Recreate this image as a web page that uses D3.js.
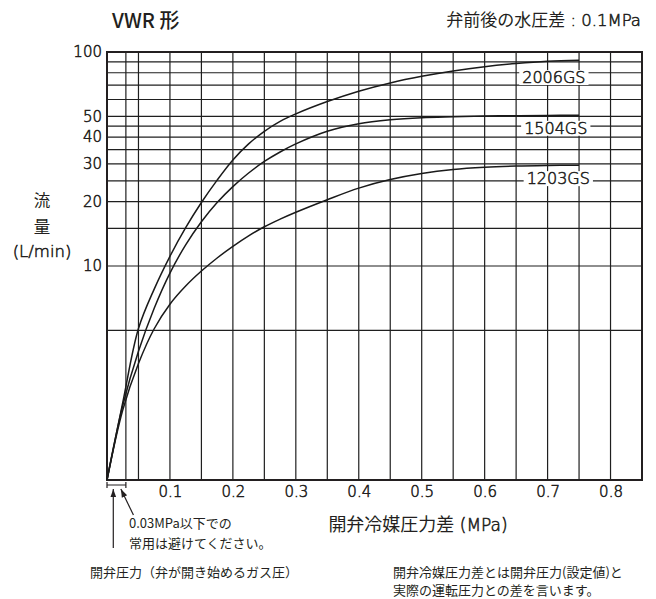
<!doctype html>
<html>
<head>
<meta charset="utf-8">
<title>VWR 形</title>
<script src="https://cdn.jsdelivr.net/npm/d3@7"></script>
<style>
  body { margin: 0; background: #fff; }
  svg { display: block; }
  text { font-family: "Noto Sans CJK JP", "Noto Sans", sans-serif; fill: #231f20; }
  .num, .axis text { font-family: "DejaVu Sans", sans-serif; font-weight: 200; stroke: #231f20; stroke-width: 0.55; }
  .grid line { stroke: #1f1f1f; stroke-width: 1.2; }
  .axis text { font-size: 15px; }
  .curve { fill: none; stroke: #1a1a1a; stroke-width: 1.5; }
  .note { font-size: 13px; }
</style>
</head>
<body>
<script>
"use strict";

// pressure difference (MPa)
const pressure = [0, 0.025, 0.05, 0.075, 0.1, 0.125, 0.15, 0.175, 0.2, 0.225, 0.25, 0.275, 0.3, 0.35, 0.4, 0.45, 0.5, 0.55, 0.6, 0.65, 0.7, 0.75];
// flow (L/min)
const flow2006 = [1, 2.3, 5.1, 7.8, 11.1, 15.1, 19.8, 25.2, 31.3, 37.2, 42.6, 47.4, 51.4, 58.7, 65.6, 71.7, 77, 81.6, 85.4, 88.3, 90.5, 91.6];
const flow1504 = [1, 2.23, 4, 6.35, 9.27, 12.55, 16.1, 19.8, 23.5, 27.2, 30.8, 34.1, 37.2, 42.6, 46.2, 48.2, 49.3, 49.8, 50.2, 50.4, 50.55, 50.6];
const flow1203 = [1, 2.12, 3.5, 5.09, 6.63, 8.06, 9.47, 10.9, 12.35, 13.83, 15.25, 16.55, 17.83, 20.41, 23.12, 25.34, 27.04, 28.23, 28.91, 29.29, 29.48, 29.58];
const models = ["2006GS", "1504GS", "1203GS"];

const xTicks = [0.1, 0.2, 0.3, 0.4, 0.5, 0.6, 0.7, 0.8];
const yTicks = [10, 20, 30, 40, 50, 100];
const xGrid = [0, 0.03, 0.05, 0.1, 0.15, 0.2, 0.25, 0.3, 0.35, 0.4, 0.45, 0.5, 0.55, 0.6, 0.65, 0.7, 0.75, 0.8, 0.85];
const yGrid = [1, 5, 10, 15, 20, 25, 30, 35, 40, 45, 50, 60, 70, 80, 90, 100];

const width = 656;
const height = 599;
const margin = { top: 52, right: 14, bottom: 119, left: 107 };

const x = d3.scaleLinear()
    .domain([0, 0.85])
    .range([margin.left, width - margin.right]);

const y = d3.scaleLog()
    .domain([1, 100])
    .range([height - margin.bottom, margin.top]);

const svg = d3.select("body").append("svg")
    .attr("width", width)
    .attr("height", height)
    .attr("viewBox", [0, 0, width, height]);

svg.append("defs").append("marker")
    .attr("id", "arrow")
    .attr("viewBox", "0 0 10 10")
    .attr("refX", 10).attr("refY", 5)
    .attr("markerWidth", 7).attr("markerHeight", 7)
    .attr("orient", "auto")
    .append("path")
    .attr("d", "M0,1.5L10,5L0,8.5z")
    .attr("fill", "#231f20");

// grid
const grid = svg.append("g").attr("class", "grid");
grid.selectAll(".v").data(xGrid).join("line")
    .attr("x1", d => x(d)).attr("x2", d => x(d))
    .attr("y1", y(1)).attr("y2", y(100));
grid.selectAll(".h").data(yGrid).join("line")
    .attr("x1", x(0)).attr("x2", x(0.85))
    .attr("y1", d => y(d)).attr("y2", d => y(d));

svg.append("rect")
    .attr("x", x(0)).attr("y", y(100))
    .attr("width", x(0.85) - x(0)).attr("height", y(1) - y(100))
    .attr("fill", "none").attr("stroke", "#231f20").attr("stroke-width", 2);

// axes
svg.append("g")
    .attr("class", "axis")
    .attr("transform", `translate(0,${y(1)})`)
    .call(d3.axisBottom(x).tickValues(xTicks).tickFormat(d3.format(".1f")).tickSize(0).tickPadding(6))
    .call(g => g.select(".domain").remove());

svg.append("g")
    .attr("class", "axis")
    .attr("transform", `translate(${x(0)},0)`)
    .call(d3.axisLeft(y).tickValues(yTicks).tickFormat(d3.format("d")).tickSize(0).tickPadding(5))
    .call(g => g.select(".domain").remove());

// curves
const line = d3.line()
    .x((d, i) => x(pressure[i]))
    .y(d => y(d))
    .curve(d3.curveCatmullRom.alpha(0.5));

svg.selectAll(".curve").data([flow2006, flow1504, flow1203]).join("path")
    .attr("class", "curve")
    .attr("d", line);

// curve labels
const labelAt = [[0.71, 76], [0.713, 44], [0.717, 25.6]];
models.forEach((m, i) => {
    const g = svg.append("g");
    const t = g.append("text")
        .attr("class", "num")
        .attr("x", x(labelAt[i][0])).attr("y", y(labelAt[i][1]))
        .attr("text-anchor", "middle")
        .attr("dominant-baseline", "central")
        .attr("font-size", 16)
        .text(m);
    const b = t.node().getBBox();
    g.insert("rect", "text")
        .attr("x", b.x - 3).attr("y", b.y + 2)
        .attr("width", b.width + 6).attr("height", b.height - 4)
        .attr("fill", "#fff");
});

// titles
svg.append("text")
    .attr("x", 112).attr("y", 28)
    .attr("font-size", 20).attr("font-weight", 500)
    .text("VWR 形");

const sub = svg.append("text")
    .attr("x", 641).attr("y", 26)
    .attr("text-anchor", "end")
    .attr("font-size", 17);
sub.append("tspan").text("弁前後の水圧差");
sub.append("tspan").attr("class", "num").attr("font-size", 16.5).text(" : 0.1MPa");

const yTitle = svg.append("text")
    .attr("text-anchor", "middle")
    .attr("font-size", 16.5);
yTitle.append("tspan").attr("x", 42).attr("y", 207).text("流");
yTitle.append("tspan").attr("x", 42).attr("y", 233).text("量");
yTitle.append("tspan").attr("x", 42).attr("y", 257).attr("class", "num").attr("font-size", 16.5).text("(L/min)");

const xTitle = svg.append("text")
    .attr("x", 418).attr("y", 531)
    .attr("text-anchor", "middle")
    .attr("font-size", 18);
xTitle.append("tspan").text("開弁冷媒圧力差");
xTitle.append("tspan").attr("class", "num").attr("font-size", 17).text(" (MPa)");

// opening pressure bracket and arrows
const by = y(1) + 5;
svg.append("path")
    .attr("d", `M${x(0)},${by - 3}V${by + 3}M${x(0)},${by}H${x(0.03)}M${x(0.03)},${by - 3}V${by + 3}`)
    .attr("fill", "none").attr("stroke", "#231f20").attr("stroke-width", 1.2);

svg.append("line")
    .attr("x1", x(0.01)).attr("y1", 548)
    .attr("x2", x(0.01)).attr("y2", by + 4)
    .attr("stroke", "#231f20").attr("stroke-width", 1.2)
    .attr("marker-end", "url(#arrow)");

svg.append("line")
    .attr("x1", x(0.042)).attr("y1", 515)
    .attr("x2", x(0.022)).attr("y2", by + 4)
    .attr("stroke", "#231f20").attr("stroke-width", 1.2)
    .attr("marker-end", "url(#arrow)");

svg.append("text").attr("class", "note")
    .attr("x", 129).attr("y", 528).attr("font-size", 14).text("0.03MPa以下での");
svg.append("text").attr("class", "note")
    .attr("x", 129).attr("y", 548).text("常用は避けてください。");

svg.append("text").attr("class", "note")
    .attr("x", 90).attr("y", 577)
    .text("開弁圧力（弁が開き始めるガス圧）");

svg.append("text").attr("class", "note")
    .attr("x", 393).attr("y", 577)
    .text("開弁冷媒圧力差とは開弁圧力(設定値)と");
svg.append("text").attr("class", "note")
    .attr("x", 393).attr("y", 595)
    .text("実際の運転圧力との差を言います。");
</script>
</body>
</html>
